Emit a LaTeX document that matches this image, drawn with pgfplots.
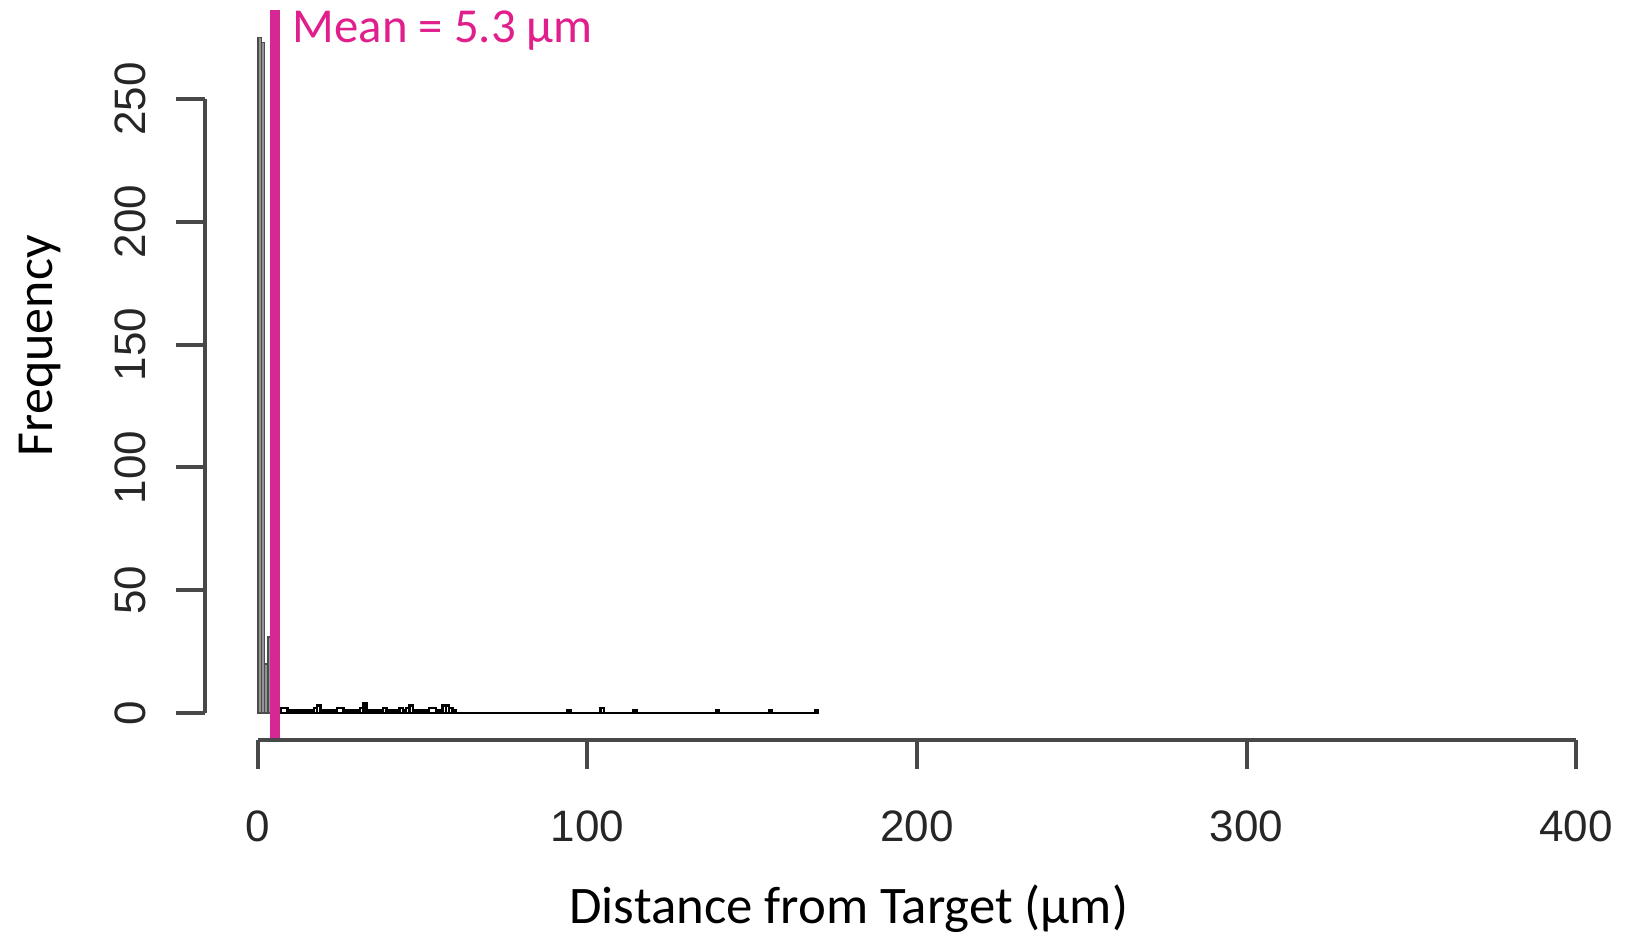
\documentclass[border=0pt]{standalone}
\usepackage{fontspec}
\setmainfont{Carlito}
\newfontfamily\arialfont{Liberation Sans}
\usepackage{pgfplots}
\pgfplotsset{compat=1.18}
\definecolor{meanpink}{RGB}{224,30,140}
\definecolor{meanline}{RGB}{214,40,148}
\definecolor{axisgray}{RGB}{72,72,72}

\begin{document}
\begin{tikzpicture}
\useasboundingbox (-51.3pt,-48.75pt) rectangle (358.2pt,185pt);
\begin{axis}[
    scale only axis, width=355.9pt, height=182.4pt,
    xmin=-16, xmax=416, ymin=-11, ymax=286,
    axis x line*=bottom, axis y line*=left,
    axis line style={draw=none},
    xtick={0,100,200,300,400}, ytick={0,50,100,150,200,250},
    tick align=outside, major tick length=7.2pt,
    tick style={axisgray, line width=1pt},
    ticklabel style={font=\arialfont\fontsize{11}{13}\selectfont, text=black!85, inner sep=0pt},
    /pgf/number format/assume math mode=true,
    xticklabel style={anchor=north, yshift=-10.3pt},
    yticklabel style={rotate=90, anchor=south, yshift=7.4pt},
    clip=false,
]
% histogram, 1 um bins (runs of equal height merged)
\addplot[ybar interval, draw=black!70, fill=gray!85, line width=0.35pt] coordinates {
    (0,275)(1,273)(2,20)(3,31)(4,0)
};
\addplot[ybar interval, draw=black, fill=white, line width=0.6pt] coordinates {
    (4,1)(7,2)(9,1)(17,2)(18,3)(19,1)(24,2)(26,1)
    (31,2)(32,4)(33,1)(38,2)(39,1)(43,2)(44,1)(45,2)(46,3)(47,1)(52,2)(54,1)
    (56,3)(57,3)(58,2)(59,1)(60,0)(94,1)(95,0)(104,2)(105,0)(114,1)(115,0)
    (139,1)(140,0)(155,1)(156,0)(169,1)(170,0)
};
% mean
\addplot[meanline, line width=2.5pt] coordinates {(5.3,-11)(5.3,286)};
\node[anchor=base west, text=meanpink, font=\fontsize{12.2}{14}\selectfont, inner sep=0pt]
    at (axis cs:10.3,272.8) {Mean = 5.3 µm};
% R-style axis lines
\draw[axisgray, line width=1pt] (axis cs:-16,0) -- (axis cs:-16,250);
\draw[axisgray, line width=1pt] (axis cs:0,-11) -- (axis cs:400,-11);
\node[rotate=90, font=\fontsize{13}{15}\selectfont, inner sep=0pt] at (axis cs:-66,149.5) {Frequency};
\node[font=\fontsize{13.2}{15}\selectfont, inner sep=0pt] at (axis cs:179.3,-79.8) {Distance from Target (µm)};
\end{axis}
\end{tikzpicture}
\end{document}
